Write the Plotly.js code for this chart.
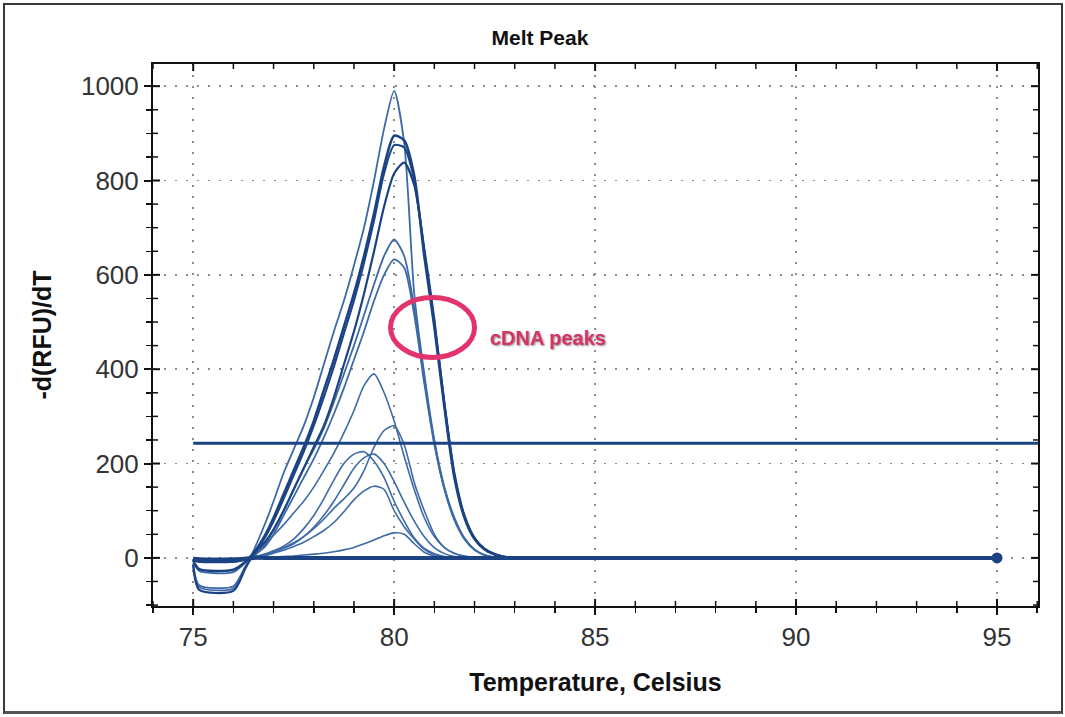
<!DOCTYPE html>
<html>
<head>
<meta charset="utf-8">
<script src="https://cdn.plot.ly/plotly-3.0.1.min.js"></script>
<style>
  html, body { margin: 0; padding: 0; background: #ffffff; }
  #wrap { position: relative; width: 1065px; height: 717px; }
  #chart { position: absolute; left: 0; top: 0; width: 1065px; height: 717px; }
  #frame { position: absolute; left: 3px; top: 3px; width: 1056px; height: 706px;
           border: 2px solid #3a3a3a; border-bottom: 3px solid #555; pointer-events: none; }
</style>
</head>
<body>
<div id="wrap"><div id="chart"></div><div id="frame"></div></div>
<script>
// Temperature grid (Celsius)
const temps = [75.0, 75.15, 76.0, 76.3, 76.5, 76.8, 77.0, 77.25, 77.5, 77.75, 78.0, 78.25, 78.5, 78.75, 79.0, 79.25, 79.5, 79.75, 80.0, 80.25, 80.5, 80.75, 81.0, 81.25, 81.5, 81.75, 82.0, 82.25, 82.5, 82.75, 83.0, 84.0, 95.0];

// Large cDNA melt peaks
const peak990 = [-12, -62, -65, -20, 15, 75, 120, 180, 230, 280, 340, 410, 480, 545, 620, 700, 800, 910, 990, 880, 560, 390, 250, 150, 85, 42, 18, 6, 1, 0, 0, 0, 0];
const peak900 = [-5, -24, -25, -8, 10, 50, 85, 135, 185, 235, 290, 355, 420, 490, 560, 640, 730, 830, 895, 885, 810, 640, 490, 320, 170, 85, 40, 18, 7, 2, 0, 0, 0];
const peak880 = [-3, -8, -8, -3, 8, 45, 78, 125, 175, 225, 280, 340, 405, 475, 545, 625, 715, 815, 875, 870, 800, 650, 500, 330, 180, 90, 42, 19, 8, 2, 0, 0, 0];
const peak840 = [-15, -68, -70, -22, 8, 35, 60, 100, 145, 190, 235, 280, 340, 410, 480, 560, 650, 745, 815, 838, 790, 655, 505, 325, 175, 88, 42, 19, 8, 2, 0, 0, 0];
const peak675 = [-6, -28, -30, -10, 5, 30, 60, 100, 145, 190, 230, 275, 330, 390, 450, 515, 580, 640, 675, 640, 530, 380, 245, 148, 82, 40, 17, 6, 1, 0, 0, 0, 0];
const peak635 = [-12, -58, -60, -18, 3, 25, 50, 90, 130, 170, 210, 255, 305, 360, 420, 480, 545, 600, 633, 615, 515, 370, 240, 145, 80, 40, 17, 6, 1, 0, 0, 0, 0];

// Smaller peaks
const peak390 = [-4, -7, -7, -2, 5, 28, 48, 70, 95, 120, 150, 185, 222, 265, 312, 365, 390, 350, 290, 215, 145, 85, 45, 22, 10, 4, 1, 0, 0, 0, 0, 0, 0];
const peak280 = [-3, -5, -5, -2, 2, 8, 15, 22, 32, 45, 62, 82, 105, 125, 148, 185, 235, 270, 280, 240, 160, 100, 50, 22, 9, 3, 1, 0, 0, 0, 0, 0, 0];
const peak225 = [-3, -5, -5, -2, 2, 8, 15, 25, 40, 62, 90, 125, 165, 200, 220, 225, 205, 170, 120, 78, 42, 20, 9, 3, 1, 0, 0, 0, 0, 0, 0, 0, 0];
const peak220 = [-3, -4, -4, -1, 2, 6, 12, 20, 30, 45, 65, 90, 120, 155, 190, 212, 220, 200, 162, 118, 78, 45, 22, 9, 3, 1, 0, 0, 0, 0, 0, 0, 0];
const peak152 = [-2, -4, -4, -1, 1, 5, 10, 16, 24, 33, 45, 58, 75, 98, 123, 142, 152, 145, 100, 66, 40, 18, 7, 2, 0, 0, 0, 0, 0, 0, 0, 0, 0];
const peak53  = [-2, -3, -3, -1, 0, 1, 2, 3, 4, 6, 8, 10, 13, 17, 22, 30, 38, 47, 53, 50, 30, 12, 4, 1, 0, 0, 0, 0, 0, 0, 0, 0, 0];

// Flat (no-template) samples
const flatA = [-3, -6, -6, -2, 0, 0, 0, 0, 0, 0, 0, 0, 0, 0, 0, 0, 0, 0, 0, 0, 0, 0, 0, 0, 0, 0, 0, 0, 0, 0, 0, 0, 0];
const flatB = [-1, -2, -2, -1, 0, 0, 0, 0, 0, 0, 0, 0, 0, 0, 0, 0, 0, 0, 0, 0, 0, 0, 0, 0, 0, 0, 0, 0, 0, 0, 0, 0, 0];
const flatEndX = [95];
const flatEndY = [0];

// Threshold line
const thresholdX = [75, 96.02];
const thresholdY = [243, 243];

// Axis ticks
const xTickVals = [75, 80, 85, 90, 95];
const yTickVals = [0, 200, 400, 600, 800, 1000];
const xMinorStep = 1;
const yMinorStep = 50;

// Annotation (cDNA peaks marker)
const ellipseX = [79.91, 82.0];
const ellipseY = [425, 552];
const labelPos = [83.82, 466];
const labelText = 'cDNA peaks';

const LIGHT = '#3d6aa6';
const DARK = '#1b4384';
const FONT = 'Liberation Sans, Arial, sans-serif';

const xRange = [74.0, 96.02];
const yRange = [-102, 1047];
const PLOT_W = 1065 - 153 - 27;
const PLOT_H = 717 - 64 - 111;

function curve(y, color, width) {
  return { x: temps, y: y, type: 'scatter', mode: 'lines',
           line: { color: color, width: width, shape: 'spline', smoothing: 0.7 },
           hoverinfo: 'skip', showlegend: false };
}

const traces = [
  curve(peak53, LIGHT, 1.6),
  curve(peak152, LIGHT, 1.6),
  curve(peak220, LIGHT, 1.6),
  curve(peak225, LIGHT, 1.6),
  curve(peak280, LIGHT, 1.6),
  curve(peak390, LIGHT, 1.6),
  curve(peak635, LIGHT, 1.8),
  curve(peak675, LIGHT, 1.8),
  curve(peak990, LIGHT, 1.8),
  curve(peak880, DARK, 2.0),
  curve(peak840, DARK, 2.2),
  curve(peak900, DARK, 2.6),
  curve(flatB, DARK, 3),
  curve(flatA, DARK, 4),
  { x: thresholdX, y: thresholdY, type: 'scatter', mode: 'lines',
    line: { color: DARK, width: 3 }, hoverinfo: 'skip', showlegend: false },
  { x: flatEndX, y: flatEndY, type: 'scatter', mode: 'markers',
    marker: { color: DARK, size: 11 }, hoverinfo: 'skip', showlegend: false }
];

// Inward-pointing tick marks on all four sides (the axes draw the outward part)
const shapes = [];
const MAJ = 7, MIN = 5;
function addXTick(v, len) {
  const f = len / PLOT_H;
  shapes.push({ type: 'line', xref: 'x', yref: 'paper', x0: v, x1: v, y0: 0, y1: f,
                line: { color: '#111', width: len === MAJ ? 2 : 1.5 } });
  shapes.push({ type: 'line', xref: 'x', yref: 'paper', x0: v, x1: v, y0: 1, y1: 1 - f,
                line: { color: '#111', width: len === MAJ ? 2 : 1.5 } });
}
function addYTick(v, len) {
  const f = len / PLOT_W;
  shapes.push({ type: 'line', xref: 'paper', yref: 'y', x0: 0, x1: f, y0: v, y1: v,
                line: { color: '#111', width: len === MAJ ? 2 : 1.5 } });
  shapes.push({ type: 'line', xref: 'paper', yref: 'y', x0: 1, x1: 1 - f, y0: v, y1: v,
                line: { color: '#111', width: len === MAJ ? 2 : 1.5 } });
}
for (let v = Math.ceil(xRange[0]); v <= xRange[1]; v += xMinorStep) {
  addXTick(v, xTickVals.includes(v) ? MAJ : MIN);
}
for (let v = Math.ceil(yRange[0] / yMinorStep) * yMinorStep; v <= yRange[1]; v += yMinorStep) {
  addYTick(v, yTickVals.includes(v) ? MAJ : MIN);
}

shapes.push({
  type: 'circle', xref: 'x', yref: 'y',
  x0: ellipseX[0], x1: ellipseX[1], y0: ellipseY[0], y1: ellipseY[1],
  line: { color: '#e2336b', width: 5 }
});

const axisCommon = {
  showline: true, linecolor: '#111', linewidth: 2, mirror: true,
  zeroline: false, ticklen: 7, tickwidth: 2, tickcolor: '#111', ticks: 'outside',
  tickfont: { family: FONT, size: 26, color: '#333' },
  showgrid: true, gridcolor: '#8c8c8c', griddash: '2px,9px', gridwidth: 1.5,
  automargin: false
};

const layout = {
  width: 1065, height: 717,
  margin: { l: 153, r: 27, t: 64, b: 111, pad: 0 },
  paper_bgcolor: '#ffffff', plot_bgcolor: '#ffffff',
  showlegend: false,
  title: { text: '<b>Melt Peak</b>', x: 0.507, xanchor: 'center', y: 0.948, yanchor: 'middle',
           font: { family: FONT, size: 21, color: '#111' } },
  xaxis: Object.assign({}, axisCommon, {
    range: xRange, tickmode: 'array', tickvals: xTickVals,
    minor: { dtick: xMinorStep, tick0: 75, ticks: 'outside', ticklen: 5, tickwidth: 1.5, tickcolor: '#111', showgrid: false },
    title: { text: '<b>Temperature, Celsius</b>', standoff: 22,
             font: { family: FONT, size: 25, color: '#111' } }
  }),
  yaxis: Object.assign({}, axisCommon, {
    range: yRange, tickmode: 'array', tickvals: yTickVals,
    minor: { dtick: yMinorStep, tick0: 0, ticks: 'outside', ticklen: 5, tickwidth: 1.5, tickcolor: '#111', showgrid: false },
    title: { text: '<b>-d(RFU)/dT</b>', standoff: 22,
             font: { family: FONT, size: 25, color: '#111' } }
  }),
  shapes: shapes,
  annotations: [{
    x: labelPos[0], y: labelPos[1], xref: 'x', yref: 'y', text: '<b>' + labelText + '</b>',
    showarrow: false, xanchor: 'center', yanchor: 'middle',
    font: { family: FONT, size: 20, color: '#d23468', shadow: '1px 1px 2px rgba(0,0,0,0.45)' }
  }]
};

Plotly.newPlot('chart', traces, layout, { staticPlot: true, displayModeBar: false });
</script>
</body>
</html>
